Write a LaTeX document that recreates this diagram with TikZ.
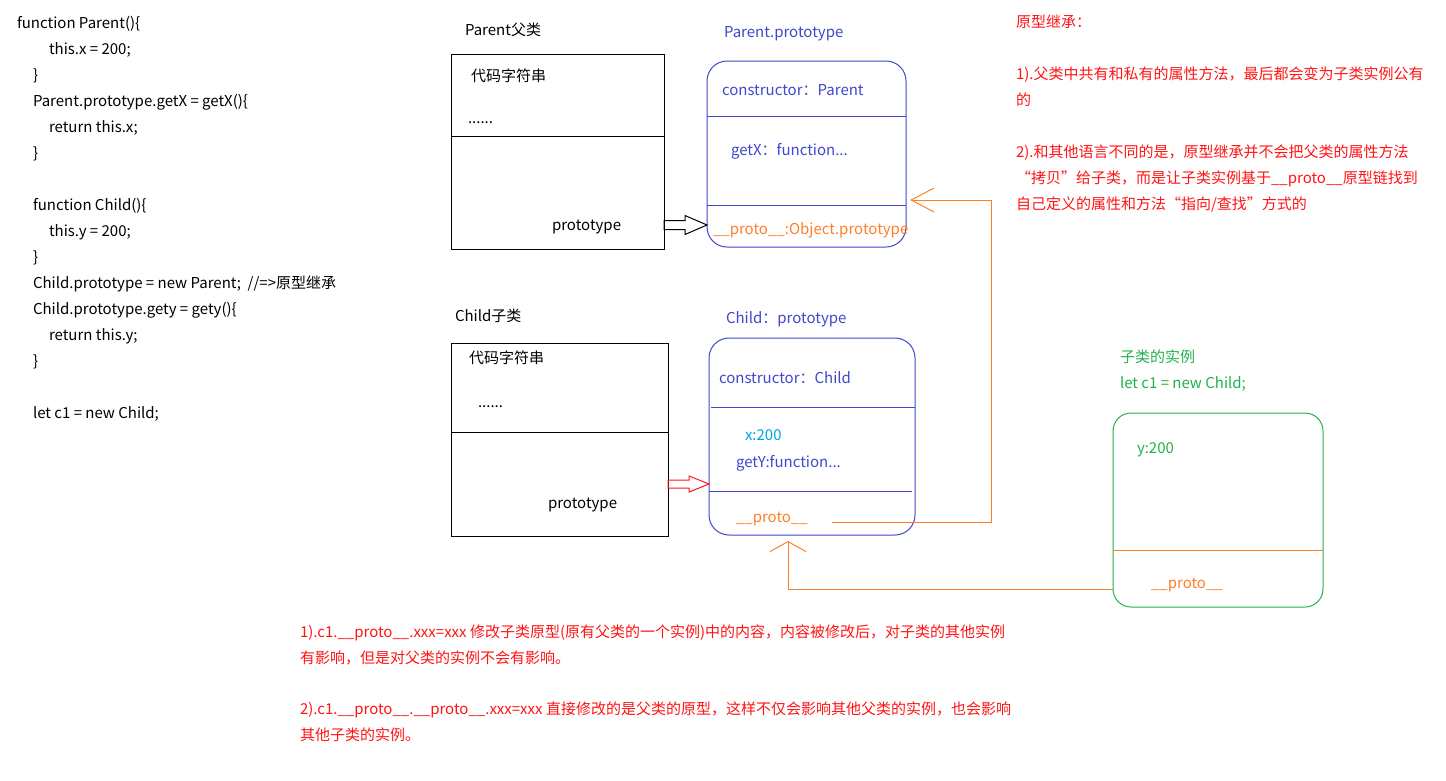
\documentclass[tikz,border=0pt]{standalone}
\usepackage{fontspec}
\setmainfont{Noto Sans CJK SC}
\usetikzlibrary{arrows.meta}
\definecolor{cblue}{RGB}{63,72,204}
\definecolor{corange}{RGB}{255,127,39}
\definecolor{cgreen}{RGB}{34,177,76}
\definecolor{clblue}{RGB}{0,162,232}
\definecolor{cred}{RGB}{255,20,20}
\begin{document}
\begin{tikzpicture}[x=1pt,y=-1pt,line width=1pt,
  every node/.style={inner sep=0pt,outer sep=0pt},
  txt/.style={anchor=west,font=\fontsize{15}{18}\selectfont,text height=12pt,text depth=2pt},
  sqbox/.style={draw=black,rectangle},
  rbox/.style={draw=cblue,rectangle,rounded corners=20pt},
  gbox/.style={draw=cgreen,rectangle,rounded corners=18pt},
  oarrow/.style={draw=corange},
]
\useasboundingbox (0,0) rectangle (1446,780);

% code on the left
\node[txt] (l1) at (17,23) {function Parent()\{};
\node[txt] (l2) at (49,49) {this.x = 200;};
\node[txt] (l3) at (33,75) {\}};
\node[txt] (l4) at (33,101) {Parent.prototype.getX = getX()\{};
\node[txt] (l5) at (49,127) {return this.x;};
\node[txt] (l6) at (33,153) {\}};
\node[txt] (l7) at (33,205) {function Child()\{};
\node[txt] (l8) at (49,231) {this.y = 200;};
\node[txt] (l9) at (33,257) {\}};
\node[txt] (l10) at (33,283) {Child.prototype = new Parent;\ \ //=>原型继承};
\node[txt] (l11) at (33,309) {Child.prototype.gety = gety()\{};
\node[txt] (l12) at (49,335) {return this.y;};
\node[txt] (l13) at (33,361) {\}};
\node[txt] (l14) at (33,413) {let c1 = new Child;};

% Parent class box
\node[txt] (plabel) at (465,30) {Parent父类};
\node[sqbox,minimum width=213pt,minimum height=195pt] (parentBox) at (557.5,151.5) {};
\draw (451,136) -- (664,136);
\node[txt] (pcode) at (471,76) {代码字符串};
\node[txt] (pdots) at (468,118) {......};
\node[txt] (pproto) at (552,225) {prototype};

% Parent.prototype box
\node[txt,text=cblue] (pplabel) at (724,32) {Parent.prototype};
\node[rbox,minimum width=199pt,minimum height=186pt] (ppBox) at (806.5,154) {};
\draw[cblue] (707,116) -- (906,116);
\draw[cblue] (707,205) -- (906,205);
\node[txt,text=cblue] (ppcons) at (722,90) {constructor：Parent};
\node[txt,text=cblue] (ppgetx) at (731,150) {getX：function...};
\node[txt,text=corange] (ppproto) at (713,229) {\_\_proto\_\_:Object.prototype};

% hollow arrow Parent -> Parent.prototype
\coordinate (pa) at (parentBox.east |- 0,225);
\draw[black,line join=miter] (pa) ++(0,-4.5) -- ++(21,0) -- ++(0,-5) -- (ppBox.west |- pa) -- ++(-22,9.5) -- ++(0,-5) -- ++(-21,0) -- cycle;

% Child class box
\node[txt] (clabel) at (455,316) {Child子类};
\node[sqbox,minimum width=217pt,minimum height=193pt] (childBox) at (559.5,439.5) {};
\draw (451,432) -- (668,432);
\node[txt] (ccode) at (469,358) {代码字符串};
\node[txt] (cdots) at (478,402) {......};
\node[txt] (cproto) at (548,503) {prototype};

% Child:prototype box
\node[txt,text=cblue] (cplabel) at (726,318) {Child：prototype};
\node[rbox,minimum width=206pt,minimum height=197pt] (cpBox) at (812,436.5) {};
\draw[cblue] (711,407) -- (915,407);
\draw[cblue] (709,491) -- (912,491);
\node[txt,text=cblue] (cpcons) at (719,378) {constructor：Child};
\node[txt,text=clblue] (cpx) at (745,435) {x:200};
\node[txt,text=cblue] (cpgety) at (736,462) {getY:function...};
\node[txt,text=corange] (cpproto) at (736,517) {\_\_proto\_\_};

% red hollow arrow Child -> Child:prototype
\coordinate (ca) at (childBox.east |- 0,484);
\draw[cred,line join=miter] (ca) ++(0,-4) -- ++(21,0) -- ++(0,-4) -- (cpBox.west |- ca) -- ++(-20,8) -- ++(0,-4) -- ++(-21,0) -- cycle;

% instance
\node[txt,text=cgreen] (ilabel1) at (1120,357) {子类的实例};
\node[txt,text=cgreen] (ilabel2) at (1120,383) {let c1 = new Child;};
\node[gbox,minimum width=210pt,minimum height=194pt] (instBox) at (1218,510) {};
\draw[corange] (1113,550) -- (1323,550);
\node[txt,text=cgreen] (iy) at (1137,448) {y:200};
\node[txt,text=corange] (iproto) at (1151,583) {\_\_proto\_\_};

% orange connectors
\coordinate (c1s) at (832,522);
\coordinate (turn1) at (991,200);
\coordinate (ptip) at (910,200);
\draw[oarrow,-{Straight Barb[length=23pt,width=24pt,line width=1pt]}] (c1s) -| (turn1) -- (ptip);
\coordinate (ist) at (instBox.west |- 0,589);
\coordinate (ctip) at (788,541);
\draw[oarrow,-{Straight Barb[length=10pt,width=36pt,line width=1pt]}] (ist) -| (ctip);

% top right notes
\node[txt,text=cred] (n0) at (1016,22) {原型继承：};
\node[txt,text=cred] (n1) at (1016,74) {1).父类中共有和私有的属性方法，最后都会变为子类实例公有};
\node[txt,text=cred] (n2) at (1016,100) {的};
\node[txt,text=cred] (n3) at (1016,152) {2).和其他语言不同的是，原型继承并不会把父类的属性方法};
\node[txt,text=cred] (n4) at (1016,178) {“拷贝”给子类，而是让子类实例基于\_\_proto\_\_原型链找到};
\node[txt,text=cred] (n5) at (1016,204) {自己定义的属性和方法“指向/查找”方式的};

% bottom notes
\node[txt,text=cred] (b1) at (300,632) {1).c1.\_\_proto\_\_.xxx=xxx 修改子类原型(原有父类的一个实例)中的内容，内容被修改后，对子类的其他实例};
\node[txt,text=cred] (b2) at (300,658) {有影响，但是对父类的实例不会有影响。};
\node[txt,text=cred] (b3) at (300,709) {2).c1.\_\_proto\_\_.\_\_proto\_\_.xxx=xxx 直接修改的是父类的原型，这样不仅会影响其他父类的实例，也会影响};
\node[txt,text=cred] (b4) at (300,735) {其他子类的实例。};
\end{tikzpicture}
\end{document}
